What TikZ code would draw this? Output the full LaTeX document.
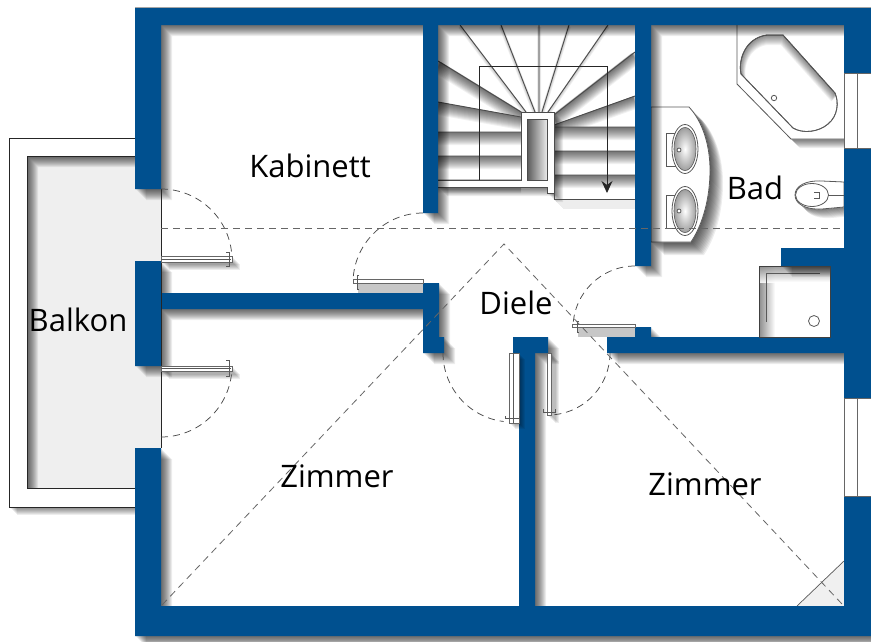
\documentclass[tikz,border=0pt]{standalone}
\usepackage{fontspec}
\setmainfont{Open Sans}
\usepackage{tikz}
\usetikzlibrary{arrows,arrows.meta,calc,positioning}
\definecolor{wallblue}{HTML}{00508F}
\definecolor{balconygrey}{HTML}{EFEFEF}
\tikzset{
	wall/.style = {fill=wallblue, draw=none},
	cast/.style = {fill=black, opacity=0.07, draw=none},
	castline/.style = {draw=black, opacity=0.055},
	outline/.style = {draw=black!85, line width=0.9pt},
	fixture/.style = {draw=black!65, line width=0.8pt, fill=white},
	tread/.style = {draw=black!70, line width=0.9pt},
	windowpane/.style = {draw=black!60, line width=0.7pt, fill=white},
	swing/.style = {draw=black!70, dash pattern=on 7pt off 5pt, line width=0.75pt},
	axisline/.style = {draw=black!60, dash pattern=on 7pt off 5pt, line width=0.8pt},
	leaf/.style = {draw=black!60, fill=white, line width=0.7pt},
	hinge/.style = {draw=black!65, line width=0.7pt},
	roomlabel/.style = {font=\fontsize{31}{31}\selectfont, text=black, inner sep=0pt},
}
% soft shadow falling to the lower right
\newcommand{\softcast}[2][9]{\foreach \s in {1,...,#1}{\fill[cast,shift={(\s,\s)}] #2;}}
\newcommand{\softline}[2][12]{\foreach \s in {1,...,#1}{\draw[castline,line width=\s pt,shift={(0,0.5*\s)}] #2;}}
\def\wallpath{
	(135,8) rectangle (871,25)
	(135,8) rectangle (161,189)
	(135,261) rectangle (161,366)
	(135,448) rectangle (161,636)
	(135,606) rectangle (871,636)
	(844,8) rectangle (871,73)
	(844,148) rectangle (871,398)
	(844,496) rectangle (871,636)
	(781,248) rectangle (871,266)
	(830,248) rectangle (871,353)
	(607,337) rectangle (871,353)
	(635,327) rectangle (651,337)
	(423,8) rectangle (438,213)
	(635,8) rectangle (651,266)
	(161,293) rectangle (439,309)
	(423,283) rectangle (439,353)
	(439,337) rectangle (444,353)
	(513,337) rectangle (548,353)
	(519,337) rectangle (535,636)
}
\def\steeppath{
	(460,25) -- (526,112) (501,25) -- (535,112) (539,25) -- (539,112)
	(569,25) -- (542,112) (608,25) -- (548,112)
}
\def\flatpath{
	(635,52) -- (554,115) (635,96) -- (554,125)
	(438,61) -- (521,112) (438,102) -- (521,117)
	(438,132) -- (521,132) (438,156) -- (521,156) (438,180) -- (521,180)
	(554,127) -- (635,127) (554,151) -- (635,151) (554,175) -- (635,175)
}
\def\eyepath{(521,112) -- (554,112) -- (554,193) -- (547,193) -- (547,187) -- (438,187) -- (438,180) -- (521,180) -- cycle}
\def\tubpath{(783,35) -- (835,93) .. controls (839,102) and (838,116) .. (828,124) .. controls (819,132) and (803,134) .. (793,128) -- (741,74) .. controls (738,60) and (745,38) .. (767,35) -- cycle}
\def\tubframe{(737,25) -- (737,84) -- (791,139) -- (844,139) -- (844,25) -- cycle}
\def\vanitypath{(651,107) -- (689,107) .. controls (703,122) and (710,146) .. (710,170) .. controls (710,198) and (703,224) .. (691,242) -- (651,242) -- cycle}
\def\toiletpath{(844,182) -- (822,181) .. controls (806,180) and (795,186) .. (795,195) .. controls (795,204) and (806,210) .. (822,209) -- (844,207) -- cycle}

\begin{document}
\begin{tikzpicture}[x=1pt,y=-1pt]
	\useasboundingbox (0,0) rectangle (871,641);
	\fill[white] (0,0) rectangle (871,641);
	% balcony
	\softcast[8]{(9,138) rectangle (135,507)}
	\fill[white] (9,138) rectangle (135,507);
	\fill[balconygrey] (27,156) rectangle (161,488);
	\begin{scope}
		\clip (27,156) rectangle (161,488);
		\foreach \s in {1,...,11}{\fill[cast,even odd rule,shift={(\s,\s)}] (-20,100) rectangle (200,550) (27,156) rectangle (260,488);}
	\end{scope}
	\draw[outline] (135,138) -- (9,138) -- (9,507) -- (135,507);
	\draw[outline] (135,156) -- (27,156) -- (27,488) -- (135,488);
	\fill[white] (161,189) rectangle (423,448);
	\fill[white] (161,25) rectangle (423,189);
	% stairs
	\begin{scope}
		\clip (438,25) rectangle (635,199);
		\softline[4]{\steeppath}
		\softline[13]{\flatpath}
	\end{scope}
	\draw[tread] \steeppath;
	\draw[tread] \flatpath;
	\begin{scope}
		\clip (438,25) rectangle (635,215);
		\softcast[9]{\eyepath}
	\end{scope}
	\softcast[9]{(554,199) rectangle (635,199.8)}
	\fill[white] \eyepath;
	\draw[tread] (438,180) -- (521,180) -- (521,112) -- (554,112) -- (554,199) -- (635,199);
	\draw[tread] (438,187) -- (547,187) -- (547,193) -- (554,193);
	\shade[left color=black!65, right color=black!8, draw=black!70, line width=0.8pt] (527,119) rectangle (547,180);
	\draw[-{Stealth[length=12pt,width=11pt]}, draw=black!85, line width=0.9pt] (479,180) -- (479,66) -- (607,66) -- (607,193);
	% bathroom
	\softcast[9]{\tubframe}
	\fill[white] \tubframe;
	\draw[fixture] (737,25) -- (737,84) -- (791,139) -- (844,139);
	\draw[fixture] \tubpath;
	\begin{scope}
		\clip \tubpath;
		\softline[10]{(741,74) .. controls (738,60) and (745,38) .. (767,35) -- (783,35) -- (835,93)}
	\end{scope}
	\draw[draw=black!65, line width=0.8pt] \tubpath;
	\draw[fixture] (774,98) circle (2.7);
	\softcast[13]{\vanitypath}
	\fill[white] \vanitypath;
	\draw[fixture] \vanitypath;
	\draw[fixture] (666,133) rectangle (680,166);
	\draw[fixture] (666,195) rectangle (680,228);
	\draw[fixture] (685,149) ellipse (13 and 24.5);
	\draw[fixture] (685,211) ellipse (13 and 24.5);
	\shade[outer color=black!38, inner color=white, draw=black!65, line width=0.6pt] (685,149) ellipse (11 and 21.5);
	\shade[outer color=black!38, inner color=white, draw=black!65, line width=0.6pt] (685,211) ellipse (11 and 21.5);
	\draw[fixture] (679,150) circle (2);
	\draw[fixture] (679,211) circle (2);
	\softcast[9]{\toiletpath}
	\fill[white] \toiletpath;
	\draw[fixture] \toiletpath;
	\draw[fixture] (812,195) ellipse (16.5 and 11.5);
	\draw[hinge] (828,195) -- (844,195);
	\draw[hinge] (814,192) -- (819,192) -- (819,198) -- (814,198);
	% shower
	\fill[white] (759,266) rectangle (830,337);
	\shade[left color=black!45, right color=white] (759,266) rectangle (775,337);
	\shade[top color=black!45, bottom color=white, fill opacity=0.85] (759,266) rectangle (830,282);
	\draw[draw=black!65, line width=1pt] (766,322) -- (766,273) -- (820,273);
	\draw[fixture] (814,321) circle (5.5);
	% corner in the right room
	\fill[black!6] (797,606) -- (844,561) -- (844,606) -- cycle;
	\draw[hinge] (797,606) -- (844,561);
	% grey under door leaves
	\fill[black!22] (358,283) rectangle (423,293);
	\fill[black!22] (578,327) rectangle (635,337);
	% walls
	\softcast[11]{\wallpath}
	\fill[wall] \wallpath;
	\draw[draw=black!35, line width=0.8pt] (135,7.5) -- (871,7.5);
	\draw[draw=black!75, line width=0.8pt] (759,337) -- (759,266) -- (830,266) -- (830,337) -- cycle;
	% windows
	\draw[windowpane] (844,73) rectangle (871,148);
	\draw[windowpane] (857,73) -- (857,148);
	\draw[windowpane] (844,398) rectangle (871,496);
	\draw[windowpane] (857,398) -- (857,496);
	\draw[draw=black!85, line width=0.9pt] (161,189) -- (161,448);
	% door leaves
	\softcast[8]{(161,256) rectangle (232,262)}
	\softcast[8]{(161,366) rectangle (232,371)}
	\softcast[6]{(509,353) rectangle (519,423)}
	\softcast[8]{(547,353) rectangle (551,415)}
	\draw[leaf] (161,256) rectangle (232,262);
	\draw[hinge] (161,259) -- (231,259);
	\draw[leaf] (161,366) rectangle (232,371);
	\draw[hinge] (161,368.5) -- (231,368.5);
	\draw[leaf] (353,279) rectangle (423,283);
	\draw[leaf] (572,324) rectangle (635,327);
	\draw[leaf] (509,353) rectangle (519,423);
	\draw[hinge] (513,353) -- (513,423);
	\draw[leaf] (547,353) rectangle (551,415);
	% hinges
	\draw[hinge] (226,252) -- (229,252) -- (229,266.5) -- (226,266.5);
	\draw[hinge] (226,360) -- (229,360) -- (229,376) -- (226,376);
	\draw[hinge] (359,275) -- (357,275) -- (357,289) -- (359,289);
	\draw[hinge] (579,321) -- (577,321) -- (577,332) -- (579,332);
	\draw[hinge] (505,416) -- (505,418.5) -- (519,418.5) -- (519,416);
	\draw[hinge] (543,409) -- (543,412) -- (555,412) -- (555,409);
	% door swings
	\draw[swing] (161,189) arc[start angle=-90, end angle=-3, radius=71];
	\draw[swing] (161,437) arc[start angle=90, end angle=3, radius=71];
	\draw[swing] (423,213) arc[start angle=-90, end angle=-178, radius=70];
	\draw[swing] (635,266) arc[start angle=-90, end angle=-178, radius=62];
	\draw[swing] (443,353) arc[start angle=180, end angle=97, radius=69];
	\draw[swing] (610,353) arc[start angle=0, end angle=84, radius=62];
	% centre lines
	\draw[axisline] (161,228) -- (844,228);
	\draw[axisline] (162,605) -- (504,244) -- (842,604);
	% labels
	\node[roomlabel] (Kabinett) at (310,166) {Kabinett};
	\node[roomlabel] (Bad) at (755,188) {Bad};
	\node[roomlabel] (Balkon) at (78,320) {Balkon};
	\node[roomlabel] (Diele) at (516,303) {Diele};
	\node[roomlabel] (ZimmerLeft) at (337,476) {Zimmer};
	\node[roomlabel] (ZimmerRight) at (705,484) {Zimmer};
\end{tikzpicture}
\end{document}
